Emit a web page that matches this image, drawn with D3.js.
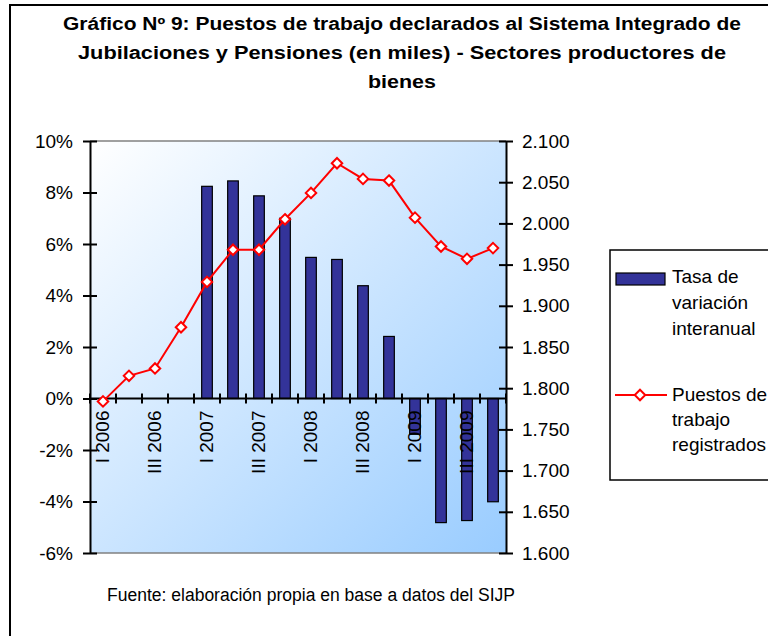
<!DOCTYPE html>
<html>
<head>
<meta charset="utf-8">
<script src="https://cdn.jsdelivr.net/npm/d3@7"></script>
<style>
  html, body { margin: 0; padding: 0; background: #ffffff; }
  svg { display: block; font-family: "Liberation Sans", Arial, sans-serif; }
</style>
</head>
<body>
<svg id="chart" width="768" height="636"></svg>
<script>
// ---- Data ----
const categories = ["I 2006","II 2006","III 2006","IV 2006",
                    "I 2007","II 2007","III 2007","IV 2007",
                    "I 2008","II 2008","III 2008","IV 2008",
                    "I 2009","II 2009","III 2009","IV 2009"];
const shownLabels = ["I 2006","III 2006","I 2007","III 2007","I 2008","III 2008","I 2009","III 2009"];
const tasaVariacion = [null, null, null, null,
                       8.24, 8.45, 7.87, 7.0,
                       5.48, 5.40, 4.38, 2.41,
                       -1.39, -4.82, -4.74, -4.01];
const puestos = [1784, 1815, 1824, 1874,
                 1929, 1968, 1968, 2005,
                 2037, 2073, 2054, 2052,
                 2007, 1972, 1957, 1970];
const leftTicks = [-6, -4, -2, 0, 2, 4, 6, 8, 10];
const rightTicks = [1600, 1650, 1700, 1750, 1800, 1850, 1900, 1950, 2000, 2050, 2100];
const titleLines = ["Gráfico Nº 9: Puestos de trabajo declarados al Sistema Integrado de",
                    "Jubilaciones y Pensiones (en miles) - Sectores productores de",
                    "bienes"];
const legendBar = ["Tasa de", "variación", "interanual"];
const legendLine = ["Puestos de", "trabajo", "registrados"];
const footer = "Fuente: elaboración propia en base a datos del SIJP";

// ---- Layout ----
const svg = d3.select("#chart");
const plot = {left: 90, right: 506, top: 141, bottom: 553};
const FONT = 19;

const x = d3.scaleBand().domain(categories).range([plot.left, plot.right]).padding(0);
const yL = d3.scaleLinear().domain([-6, 10]).range([plot.bottom, plot.top]);
const yR = d3.scaleLinear().domain([1600, 2100]).range([plot.bottom, plot.top]);
const esLocale = d3.formatLocale({decimal: ",", thousands: ".", grouping: [3], currency: ["$", ""]});
const fmtR = esLocale.format(",.0f");

// outer frame (cut at right/bottom)
svg.append("rect").attr("x", 10).attr("y", 5).attr("width", 800).attr("height", 700)
  .attr("fill", "#ffffff").attr("stroke", "#000").attr("stroke-width", 2);

// title
const titleW = [678, 648, 68];
titleLines.forEach((t, i) => {
  svg.append("text").attr("x", 402).attr("y", 30 + i * 29)
    .attr("text-anchor", "middle").attr("font-weight", "bold").attr("font-size", 18)
    .attr("textLength", titleW[i]).attr("lengthAdjust", "spacingAndGlyphs")
    .text(t);
});

// plot background gradient
const defs = svg.append("defs");
const grad = defs.append("linearGradient").attr("id", "bg")
  .attr("x1", "0").attr("y1", "0").attr("x2", "1").attr("y2", "1");
grad.append("stop").attr("offset", "0%").attr("stop-color", "#ffffff");
grad.append("stop").attr("offset", "100%").attr("stop-color", "#99ccff");
svg.append("rect").attr("x", plot.left).attr("y", plot.top)
  .attr("width", plot.right - plot.left).attr("height", plot.bottom - plot.top)
  .attr("fill", "url(#bg)");
// plot area top/bottom border (gray)
svg.append("line").attr("x1", plot.left).attr("x2", plot.right).attr("y1", plot.top).attr("y2", plot.top)
  .attr("stroke", "#808080").attr("stroke-width", 1.5);
svg.append("line").attr("x1", plot.left).attr("x2", plot.right).attr("y1", plot.bottom).attr("y2", plot.bottom)
  .attr("stroke", "#808080").attr("stroke-width", 1.5);

// bars
const bw = x.bandwidth() * 0.41;
svg.append("g").selectAll("rect")
  .data(categories.map((c, i) => ({c, v: tasaVariacion[i]})).filter(d => d.v !== null))
  .join("rect")
  .attr("x", d => x(d.c) + x.bandwidth() / 2 - bw / 2)
  .attr("y", d => yL(Math.max(0, d.v)))
  .attr("width", bw)
  .attr("height", d => Math.abs(yL(d.v) - yL(0)))
  .attr("fill", "#333399").attr("stroke", "#000").attr("stroke-width", 1.2);

// left axis
const axL = d3.axisLeft(yL).tickValues(leftTicks).tickSize(0).tickPadding(17)
  .tickFormat(d => d + "%");
const gL = svg.append("g").attr("transform", `translate(${plot.left},0)`).call(axL);
gL.select(".domain").attr("stroke", "#000").attr("stroke-width", 2);
gL.selectAll(".tick text").attr("font-size", FONT).attr("fill", "#000")
  .attr("font-family", "Liberation Sans, Arial, sans-serif");
gL.selectAll(".tick").append("line").attr("x1", -7).attr("x2", 7).attr("stroke", "#000").attr("stroke-width", 2);

// right axis
const axR = d3.axisRight(yR).tickValues(rightTicks).tickSize(0).tickPadding(16).tickFormat(fmtR);
const gR = svg.append("g").attr("transform", `translate(${plot.right},0)`).call(axR);
gR.select(".domain").attr("stroke", "#000").attr("stroke-width", 2);
gR.selectAll(".tick text").attr("font-size", FONT).attr("fill", "#000")
  .attr("font-family", "Liberation Sans, Arial, sans-serif");
gR.selectAll(".tick").append("line").attr("x1", -7).attr("x2", 7).attr("stroke", "#000").attr("stroke-width", 2);

// x axis at zero
const gX = svg.append("g").attr("transform", `translate(0,${yL(0)})`);
gX.append("line").attr("x1", plot.left).attr("x2", plot.right).attr("stroke", "#000").attr("stroke-width", 2);
const bounds = categories.map(c => x(c)).concat([plot.right]);
gX.selectAll("line.tk").data(bounds).join("line").attr("class", "tk")
  .attr("x1", d => d).attr("x2", d => d).attr("y1", -5).attr("y2", 5)
  .attr("stroke", "#000").attr("stroke-width", 2);
gX.selectAll("text").data(shownLabels).join("text")
  .attr("transform", d => `translate(${x(d) + x.bandwidth() / 2 - 1},12) rotate(-90)`)
  .attr("text-anchor", "end").attr("dy", "0.35em")
  .attr("font-size", FONT).attr("fill", "#000")
  .text(d => d);

// line
const line = d3.line().x((d, i) => x(categories[i]) + x.bandwidth() / 2).y(d => yR(d));
svg.append("path").datum(puestos).attr("d", line)
  .attr("fill", "none").attr("stroke", "#ff0000").attr("stroke-width", 2);
const diamond = d3.symbol().type(d3.symbolDiamond2).size(70);
svg.append("g").selectAll("path").data(puestos).join("path")
  .attr("transform", (d, i) => `translate(${x(categories[i]) + x.bandwidth() / 2},${yR(d)})`)
  .attr("d", diamond)
  .attr("fill", "#ffffff").attr("stroke", "#ff0000").attr("stroke-width", 2);

// legend
svg.append("rect").attr("x", 610).attr("y", 250).attr("width", 200).attr("height", 230)
  .attr("fill", "#ffffff").attr("stroke", "#000").attr("stroke-width", 1.5);
svg.append("rect").attr("x", 616).attr("y", 273).attr("width", 49).attr("height", 12)
  .attr("fill", "#333399").attr("stroke", "#000").attr("stroke-width", 1.2);
legendBar.forEach((t, i) => {
  svg.append("text").attr("x", 672).attr("y", 283 + i * 26).attr("font-size", FONT).text(t);
});
svg.append("line").attr("x1", 615).attr("x2", 667).attr("y1", 395).attr("y2", 395)
  .attr("stroke", "#ff0000").attr("stroke-width", 2);
svg.append("path").attr("transform", "translate(640,395)").attr("d", diamond)
  .attr("fill", "#ffffff").attr("stroke", "#ff0000").attr("stroke-width", 2);
legendLine.forEach((t, i) => {
  svg.append("text").attr("x", 672).attr("y", 401 + i * 25).attr("font-size", FONT).text(t);
});

// footer
svg.append("text").attr("x", 107).attr("y", 601).attr("font-size", 18)
  .attr("textLength", 408).attr("lengthAdjust", "spacingAndGlyphs").text(footer);
</script>
</body>
</html>
